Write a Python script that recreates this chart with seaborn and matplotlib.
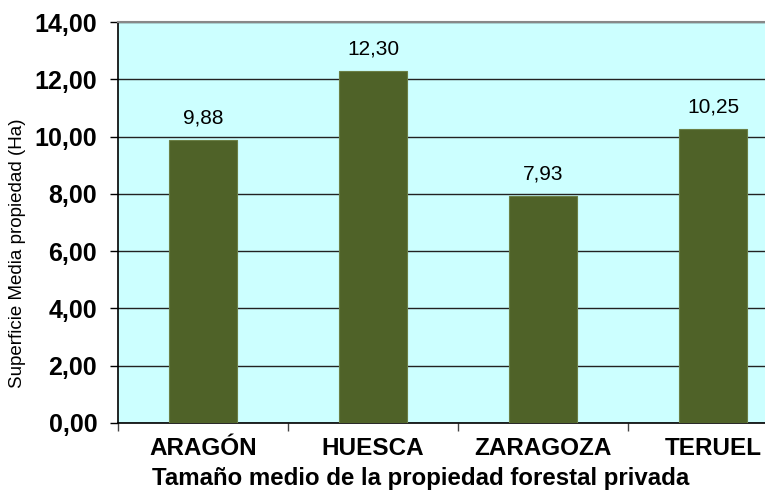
import numpy as np
import pandas as pd
import seaborn as sns
import matplotlib.pyplot as plt
from matplotlib.ticker import FuncFormatter, FixedLocator

# data
provincias = ['ARAGÓN', 'HUESCA', 'ZARAGOZA', 'TERUEL']
superficie = [9.88, 12.30, 7.93, 10.25]

df = pd.DataFrame({'provincia': provincias, 'superficie': superficie})

sns.set_style('white')
plt.rcParams['font.family'] = ['Liberation Sans', 'DejaVu Sans']
plt.rcParams['text.color'] = 'black'
plt.rcParams['xtick.color'] = 'black'
plt.rcParams['ytick.color'] = 'black'
plt.rcParams['axes.labelcolor'] = 'black'

fig = plt.figure(figsize=(7.65, 4.92), dpi=100)
# axes run past the right edge of the figure, as in the original
ax = fig.add_axes([118 / 765, 69 / 492, 680 / 765, 401 / 492])
ax.set_facecolor('#CCFFFF')

sns.barplot(data=df, x='provincia', y='superficie', color='#4F6228',
            width=0.4, saturation=1, ax=ax, zorder=3,
            edgecolor='#6B7F45', linewidth=0.8)

ax.set_xlim(-0.5, 3.5)
ax.set_ylim(0, 14)
ax.set_yticks(np.arange(0, 15, 2))
ax.yaxis.set_major_formatter(FuncFormatter(lambda v, p: f'{v:.2f}'.replace('.', ',')))
ax.grid(axis='y', color='#222222', linewidth=1, zorder=1)
ax.set_axisbelow(True)

ax.tick_params(axis='y', direction='out', length=6, width=1, color='black', pad=9,
               left=True, labelsize=18)
for lab in ax.get_yticklabels():
    lab.set_fontweight('bold')

ax.tick_params(axis='x', which='major', length=0, pad=10, labelsize=17.5)
for lab in ax.get_xticklabels():
    lab.set_fontweight('bold')
ax.xaxis.set_minor_locator(FixedLocator([-0.5, 0.5, 1.5, 2.5, 3.5]))
ax.tick_params(axis='x', which='minor', direction='out', length=6, width=1, color='#444444', bottom=True)

for sp in ['left', 'bottom']:
    ax.spines[sp].set_color('black')
    ax.spines[sp].set_linewidth(1.2)
ax.spines['top'].set_color('#888888')
ax.spines['top'].set_linewidth(1.5)
ax.spines['right'].set_visible(False)

for i, v in enumerate(superficie):
    ax.annotate(f'{v:.2f}'.replace('.', ','), (i, v), xytext=(0, 9),
                textcoords='offset points', ha='center', va='bottom', fontsize=15)

ax.set_xlabel('')
ax.set_ylabel('')
fig.text(18 / 765, 1 - 253 / 492, 'Superficie Media propiedad (Ha)', rotation=90,
         ha='center', va='center', fontsize=13.5)
fig.text(421 / 765, 1 - 479 / 492, 'Tamaño medio de la propiedad forestal privada',
         ha='center', va='center', fontsize=17.3, fontweight='bold')

fig.savefig('out.png', dpi=100)
